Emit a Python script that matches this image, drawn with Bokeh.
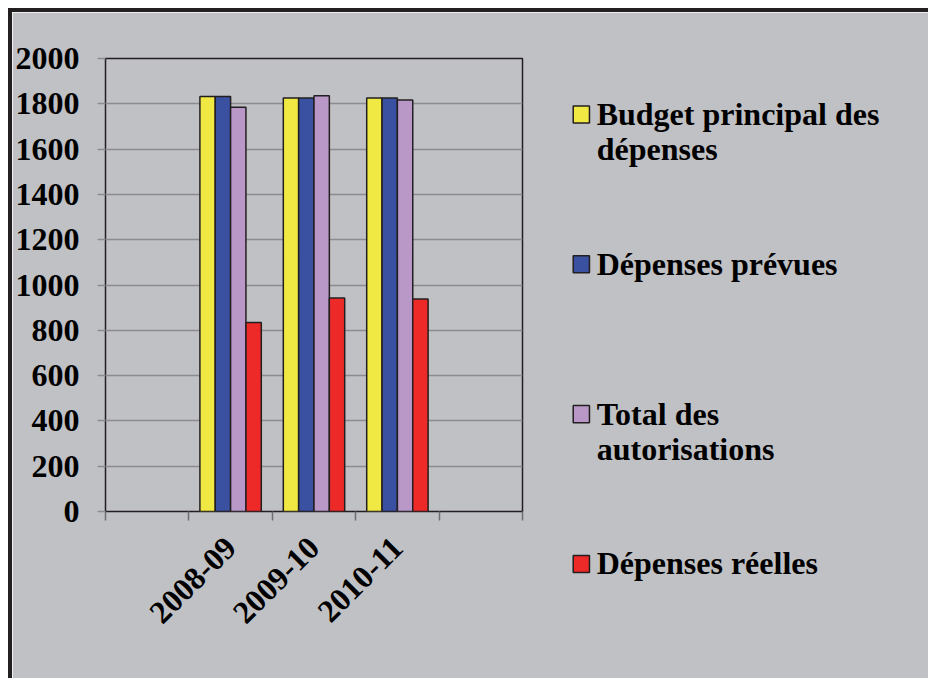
import math
import numpy as np
from bokeh.plotting import figure
from bokeh.models import Range1d, FixedTicker
from bokeh.core.properties import value
from bokeh.embed import file_html
from bokeh.resources import INLINE

# ---- data ----
categories = ["2008-09", "2009-10", "2010-11"]
series_labels = [
    ["Budget principal des", "dépenses"],
    ["Dépenses prévues"],
    ["Total des", "autorisations"],
    ["Dépenses réelles"],
]
budget_principal = [1832, 1826, 1826]
depenses_prevues = [1832, 1826, 1826]
total_autorisations = [1785, 1835, 1817]
depenses_reelles = [834, 943, 938]
y_ticks = [0, 200, 400, 600, 800, 1000, 1200, 1400, 1600, 1800, 2000]

series = [budget_principal, depenses_prevues, total_autorisations, depenses_reelles]
colors = ["#f0e943", "#3a50a0", "#b998c8", "#ee2a29"]

BG = "#c0c1c4"
DARK = "#231f20"
GRID = "#8b8c8e"
FONT = "Liberation Serif"
FS = "32px"

W, H = 916, 666
ML, MR, MT, MB = 90, 410, 46, 171
n_slots = len(categories) + 2

p = figure(width=W, height=H, x_range=Range1d(0, n_slots), y_range=Range1d(0, 2000),
           output_backend="svg", toolbar_location=None,
           min_border_left=ML, min_border_right=MR, min_border_top=MT, min_border_bottom=MB,
           background_fill_color=BG, border_fill_color=BG,
           styles={"margin-left": "8px", "margin-top": "8px", "box-sizing": "content-box",
                   "border-left": "4px solid " + DARK, "border-top": "4px solid " + DARK})
p.outline_line_color = DARK
p.outline_line_width = 1.5

slot_centers = np.arange(len(categories)) + 1.5
bar_w = 0.184
for k, (vals, col) in enumerate(zip(series, colors)):
    xs = slot_centers + (k - 1.5) * bar_w
    p.vbar(x=xs, top=vals, bottom=0, width=bar_w, fill_color=col,
           line_color=DARK, line_width=1.5)

# y axis
p.yaxis.ticker = FixedTicker(ticks=y_ticks)
p.yaxis.axis_line_color = None
p.yaxis.major_tick_in = 0
p.yaxis.major_tick_out = 8
p.yaxis.major_tick_line_color = GRID
p.yaxis.major_tick_line_width = 1.5
p.yaxis.minor_tick_line_color = None
p.yaxis.major_label_text_font = FONT
p.yaxis.major_label_text_font_style = "bold"
p.yaxis.major_label_text_font_size = FS
p.yaxis.major_label_text_color = "black"
p.yaxis.major_label_standoff = 18

p.ygrid.ticker = FixedTicker(ticks=y_ticks)
p.ygrid.grid_line_color = GRID
p.ygrid.grid_line_width = 1.5
p.xgrid.grid_line_color = None

# x axis
p.xaxis.ticker = FixedTicker(ticks=list(slot_centers), minor_ticks=list(range(n_slots + 1)))
p.xaxis.major_label_overrides = {float(c): cat for c, cat in zip(slot_centers, categories)}
p.xaxis.axis_line_color = None
p.xaxis.major_tick_line_color = None
p.xaxis.major_tick_in = 0
p.xaxis.major_tick_out = 0
p.xaxis.minor_tick_in = 0
p.xaxis.minor_tick_out = 9
p.xaxis.minor_tick_line_color = "#6d6e70"
p.xaxis.minor_tick_line_width = 1.5
p.xaxis.major_label_orientation = math.pi / 4
p.xaxis.major_label_text_font = FONT
p.xaxis.major_label_text_font_style = "bold"
p.xaxis.major_label_text_font_size = FS
p.xaxis.major_label_text_color = "black"
p.xaxis.major_label_standoff = 22

# ---- legend (placed by canvas pixels, drawn as unclipped overlay text) ----
frame_w = W - ML - MR
frame_h = H - MT - MB
frame_bottom = H - MB
def dx(px):
    return (px - ML) / frame_w * n_slots
def dy(py):
    return (frame_bottom - py) / frame_h * 2000

leg_sq_x = 564.7
leg_txt_x = 580
leg_top = 101.5
leg_step = 148.5
line_gap = 35
base_off = -0.5
for k, (lines, col) in enumerate(zip(series_labels, colors)):
    cy = leg_top + k * leg_step
    p.text(x=[dx(leg_sq_x)], y=[dy(cy)], text=[" "],
           text_font=value(FONT), text_font_size="1px", text_color=col,
           text_align="center", text_baseline="middle",
           background_fill_color=col, border_line_color=DARK, border_line_width=1.5,
           padding=8, level="overlay")
    for j, line in enumerate(lines):
        p.text(x=[dx(leg_txt_x)], y=[dy(cy + base_off + j * line_gap)], text=[line],
               text_font=value(FONT), text_font_style="bold", text_font_size=FS,
               text_color="black", text_baseline="alphabetic", text_align="left",
               level="overlay")

open("out.html", "w").write(file_html(p, INLINE))
